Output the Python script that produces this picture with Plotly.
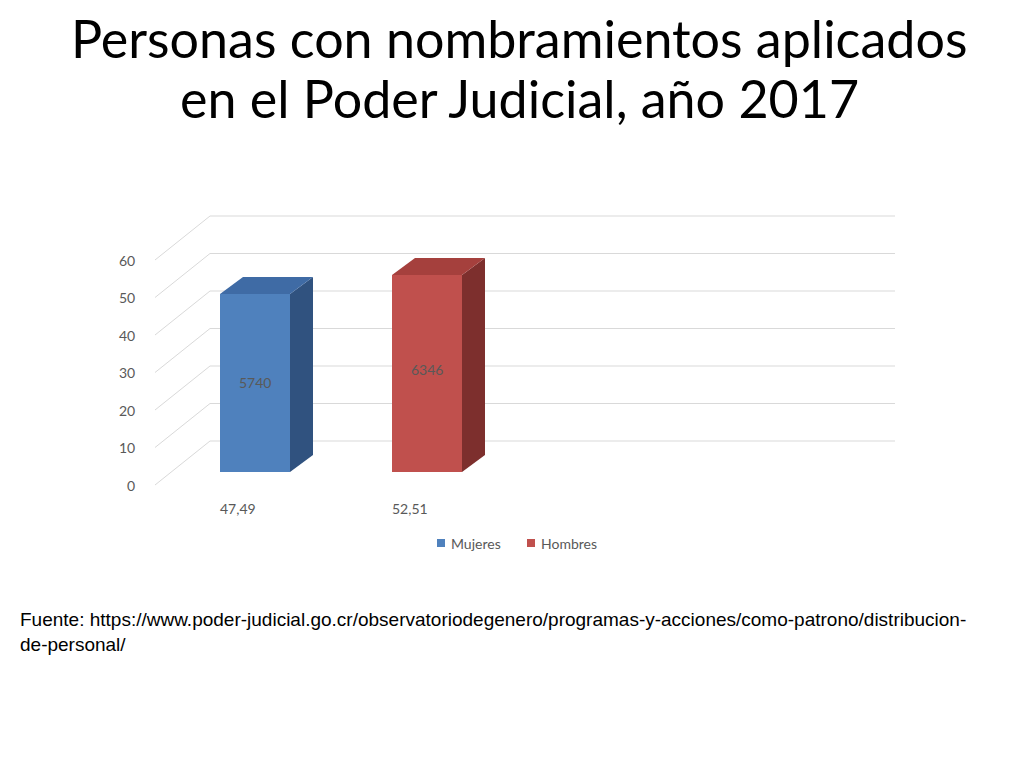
import plotly.graph_objects as go

title_lines = ["Personas con nombramientos aplicados", "en el Poder Judicial, año 2017"]
series = ["Mujeres", "Hombres"]
categories = ["47,49", "52,51"]
values = [47.49, 52.51]
counts = ["5740", "6346"]
ticks = [0, 10, 20, 30, 40, 50, 60]
front_c = ["#4F81BD", "#C0504D"]
top_c = ["#3F6BA5", "#A5403D"]
side_c = ["#30527F", "#7D2F2D"]
source = ("Fuente: https://www.poder-judicial.go.cr/observatoriodegenero/programas-y-acciones/como-patrono/distribucion-"
          "<br>de-personal/")

K = 3.75            # px per unit
FX, F0 = 155, 485   # front-left corner
BX, B0 = 210, 441   # back-left corner
RX = 895
BASE = 472
bar_x = [220, 392]
BW = 70
DX, DY = 23, -17
OFF = 8

fig = go.Figure()
grid = dict(color="#D9D9D9", width=1)
for t in ticks:
    fig.add_trace(go.Scatter(x=[FX, BX, RX], y=[F0 - t*K, B0 - t*K, B0 - t*K], mode="lines",
                             line=grid, showlegend=False, hoverinfo="skip"))
for i, (v, n) in enumerate(zip(values, series)):
    x0 = bar_x[i]; x1 = x0 + BW; yt = BASE - v*K
    fig.add_trace(go.Scatter(x=[x1, x1+DX, x1+DX, x1, x1], y=[BASE, BASE+DY, yt+DY, yt, BASE],
                             fill="toself", fillcolor=side_c[i], line=dict(width=0), mode="lines",
                             showlegend=False, hoverinfo="skip"))
    fig.add_trace(go.Scatter(x=[x0, x0+DX, x1+DX, x1, x0], y=[yt, yt+DY, yt+DY, yt, yt],
                             fill="toself", fillcolor=top_c[i], line=dict(width=0), mode="lines",
                             showlegend=False, hoverinfo="skip"))
    fig.add_trace(go.Scatter(x=[x0, x1, x1, x0, x0], y=[BASE, BASE, yt, yt, BASE],
                             fill="toself", fillcolor=front_c[i], line=dict(width=0), mode="lines",
                             name=n, showlegend=False, hoverinfo="skip"))
    fig.add_annotation(x=x0 + BW/2, y=(BASE + yt)/2 - (0 if i == 0 else 4),
                       text=counts[i], showarrow=False, font=dict(size=14, color="#595959"))
    fig.add_annotation(x=x0 + BW/2 - 17, y=508, text=categories[i], showarrow=False,
                       font=dict(size=14, color="#595959"))

for t in ticks:
    fig.add_annotation(x=FX - 18, y=F0 - t*K, text=str(t), showarrow=False, xanchor="right",
                       font=dict(size=14, color="#595959"))

lx = [441, 531]
for i, n in enumerate(series):
    fig.add_trace(go.Scatter(x=[lx[i]], y=[543], mode="markers",
                             marker=dict(symbol="square", size=8, color=front_c[i]),
                             showlegend=False, hoverinfo="skip"))
    fig.add_annotation(x=lx[i] + 8, y=543, text=n, showarrow=False, xanchor="left",
                       font=dict(size=14, color="#595959"))

for j, line in enumerate(title_lines):
    fig.add_annotation(x=519, y=38 + 60*j, text=line, showarrow=False,
                       font=dict(size=52, color="#000000"))
fig.add_annotation(x=18, y=632, text=source, showarrow=False, xanchor="left", align="left",
                   font=dict(size=19, color="#000000", family="Liberation Sans"))

fig.update_layout(width=1024, height=768, margin=dict(l=0, r=0, t=0, b=0),
                  paper_bgcolor="white", plot_bgcolor="white",
                  font=dict(family="Lato, Carlito, sans-serif"),
                  xaxis=dict(range=[OFF, 1024 + OFF], visible=False, fixedrange=True),
                  yaxis=dict(range=[768 + OFF, OFF], visible=False, fixedrange=True))
fig.write_html("out.html")
